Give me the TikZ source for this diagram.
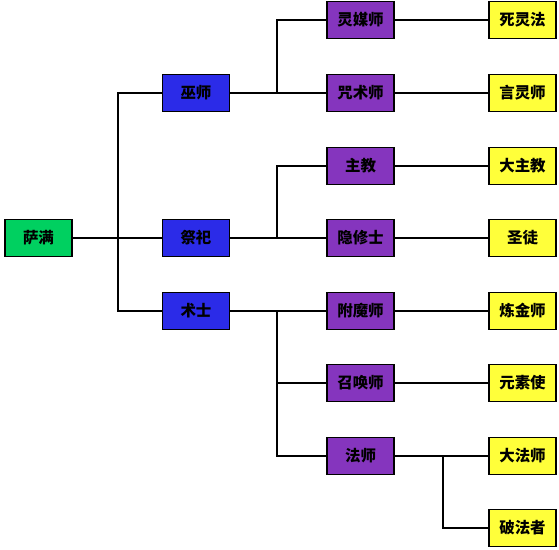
\documentclass[tikz,border=0pt]{standalone}
\usepackage{fontspec}
\newfontfamily\cjk{Noto Sans CJK SC}
\definecolor{shamangreen}{RGB}{0,208,96}
\definecolor{classblue}{RGB}{43,43,232}
\definecolor{subpurple}{RGB}{133,53,190}
\definecolor{leafyellow}{RGB}{255,255,58}

\begin{document}
\begin{tikzpicture}[x=0.02cm,y=-0.02cm]
\tikzstyle{every node}=[draw,line width=0.6pt,minimum width=1.34cm,minimum height=0.74cm,inner sep=0,font=\cjk\bfseries\fontsize{8.8}{10}\selectfont]
\tikzstyle{root}=[fill=shamangreen]
\tikzstyle{cls}=[fill=classblue]
\tikzstyle{sub}=[fill=subpurple]
\tikzstyle{leaf}=[fill=leafyellow]
\useasboundingbox (0,0) rectangle (559,549);
\node[root] (saman) at (38.5,238) {萨满};
\node[cls] (wushi) at (196,93) {巫师};
\node[cls] (jisi) at (196,238) {祭祀};
\node[cls] (shushi) at (196,311) {术士};
\node[sub] (lingmei) at (360.5,20) {灵媒师};
\node[sub] (zhoushu) at (360.5,93) {咒术师};
\node[sub] (zhujiao) at (360.5,166) {主教};
\node[sub] (yinxiu) at (360.5,238) {隐修士};
\node[sub] (fumo) at (360.5,311) {附魔师};
\node[sub] (zhaohuan) at (360.5,383) {召唤师};
\node[sub] (fashi) at (360.5,456) {法师};
\node[leaf] (siling) at (522.5,20) {死灵法};
\node[leaf] (yanling) at (522.5,93) {言灵师};
\node[leaf] (dazhujiao) at (522.5,166) {大主教};
\node[leaf] (shengtu) at (522.5,238) {圣徒};
\node[leaf] (lianjin) at (522.5,311) {炼金师};
\node[leaf] (yuansu) at (522.5,383) {元素使};
\node[leaf] (dafashi) at (522.5,456) {大法师};
\node[leaf] (pofa) at (522.5,528) {破法者};
\coordinate (trunk) at (118,238);
\coordinate (j1) at (277,93);
\coordinate (j2) at (277,238);
\coordinate (j3) at (277,311);
\coordinate (j4) at (443,456);
\begin{scope}[line width=0.6pt]
\draw (saman) -- (jisi);
\draw (wushi) -| (trunk);
\draw (shushi) -| (trunk);
\draw (wushi) -- (zhoushu);
\draw (lingmei) -| (j1);
\draw (jisi) -- (yinxiu);
\draw (zhujiao) -| (j2);
\draw (shushi) -- (fumo);
\draw (zhaohuan) -| (j3);
\draw (fashi) -| (j3);
\draw (lingmei) -- (siling);
\draw (zhoushu) -- (yanling);
\draw (zhujiao) -- (dazhujiao);
\draw (yinxiu) -- (shengtu);
\draw (fumo) -- (lianjin);
\draw (zhaohuan) -- (yuansu);
\draw (fashi) -- (dafashi);
\draw (pofa) -| (j4);
\end{scope}
\end{tikzpicture}
\end{document}
